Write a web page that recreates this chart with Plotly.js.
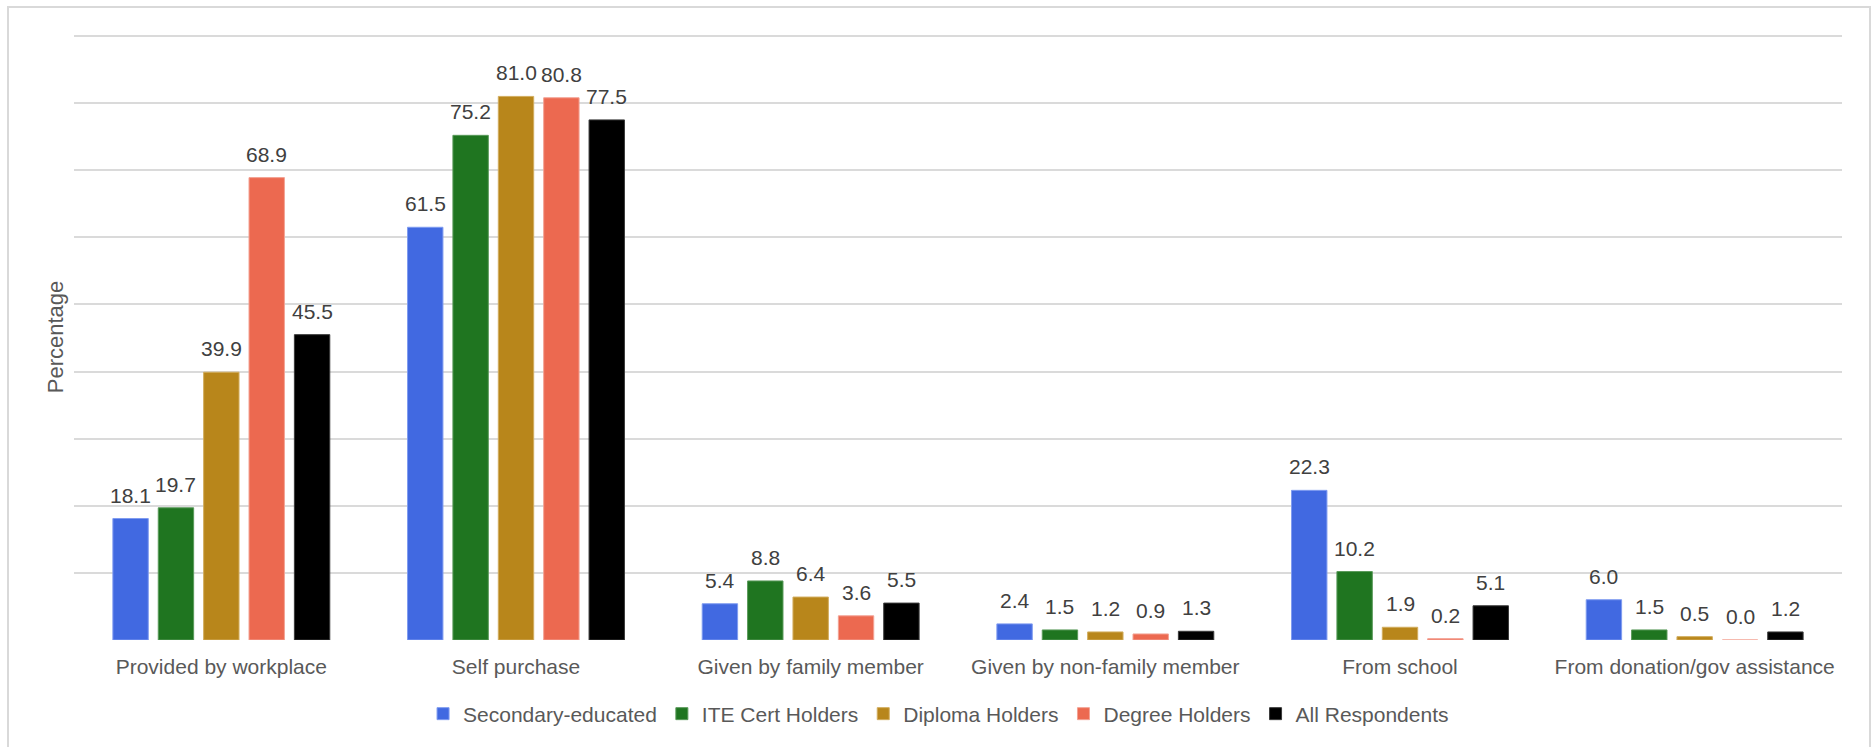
<!DOCTYPE html>
<html>
<head>
<meta charset="utf-8">
<script src="https://cdn.plot.ly/plotly-3.0.1.min.js"></script>
<style>
  html, body { margin: 0; padding: 0; background: #ffffff; }
  #chart { width: 1872px; height: 747px; }
</style>
</head>
<body>
<div id="chart"></div>
<script>
// Sources of the item, by highest education level (% of respondents)
const categories = [
  'Provided by workplace',
  'Self purchase',
  'Given by family member',
  'Given by non-family member',
  'From school',
  'From donation/gov assistance'
];

const seriesNames = [
  'Secondary-educated',
  'ITE Cert Holders',
  'Diploma Holders',
  'Degree Holders',
  'All Respondents'
];

const secondaryEducated = [18.1, 61.5, 5.4, 2.4, 22.3, 6.0];
const iteCertHolders    = [19.7, 75.2, 8.8, 1.5, 10.2, 1.5];
const diplomaHolders    = [39.9, 81.0, 6.4, 1.2, 1.9, 0.5];
const degreeHolders     = [68.9, 80.8, 3.6, 0.9, 0.2, 0.0];
const allRespondents    = [45.5, 77.5, 5.5, 1.3, 5.1, 1.2];

const seriesValues = [secondaryEducated, iteCertHolders, diplomaHolders, degreeHolders, allRespondents];

const colors = ['#4169e1', '#1f7520', '#b8861b', '#ec6950', '#000000'];
const edgeColors = ['#7f9bf0', '#5a9a5a', '#d2ad5e', '#f3a294', '#3a3a3a'];

const FONT = '"Liberation Sans", Arial, Helvetica, sans-serif';

// Figure geometry
const W = 1872, H = 747;
const margin = { l: 74, r: 30, t: 34, b: 107 };
const plotW = W - margin.l - margin.r;
const plotH = H - margin.t - margin.b;
const BARGAP = 0.23, BARGROUPGAP = 0.22;

const traces = seriesNames.map((name, i) => ({
  type: 'bar',
  name: name,
  x: categories,
  y: seriesValues[i],
  marker: { color: colors[i], line: { color: edgeColors[i], width: 1 } },
  hovertemplate: '%{x}<br>' + name + ': %{y:.1f}<extra></extra>'
}));

// Value labels above each bar, offset to the bar's slot within its group
const slotW = plotW / categories.length;
const barSlot = slotW * (1 - BARGAP) / seriesNames.length;
const valueLabels = [];
seriesValues.forEach((vals, i) => {
  vals.forEach((v, j) => {
    valueLabels.push({
      x: categories[j], y: v, xref: 'x', yref: 'y',
      text: v.toFixed(1), showarrow: false,
      xanchor: 'center', yanchor: 'bottom',
      xshift: (i - (seriesNames.length - 1) / 2) * barSlot,
      yshift: 10,
      font: { family: FONT, size: 21, color: '#404040' }
    });
  });
});

const layout = {
  width: W, height: H,
  margin: margin,
  paper_bgcolor: '#ffffff',
  plot_bgcolor: '#ffffff',
  barmode: 'group',
  bargap: BARGAP,
  bargroupgap: BARGROUPGAP,
  font: { family: FONT, size: 21, color: '#595959' },
  showlegend: true,
  legend: {
    orientation: 'h',
    x: 0.489, xanchor: 'center',
    y: (H - margin.b - 714) / plotH, yanchor: 'middle',
    font: { family: FONT, size: 21, color: '#595959' },
    itemwidth: 30,
    traceorder: 'normal'
  },
  xaxis: {
    type: 'category',
    ticks: '',
    showline: false,
    showgrid: false,
    ticklabelstandoff: 12,
    tickfont: { family: FONT, size: 21, color: '#595959' },
    fixedrange: true
  },
  yaxis: {
    range: [0, 90.3],
    dtick: 10,
    showticklabels: false,
    ticks: '',
    showgrid: true,
    gridcolor: '#dadada',
    gridwidth: 2,
    zeroline: false,
    showline: false,
    title: {
      text: 'Percentage',
      standoff: 3,
      font: { family: FONT, size: 22, color: '#595959' }
    },
    fixedrange: true
  },
  annotations: valueLabels,
  shapes: [{
    type: 'rect', xref: 'paper', yref: 'paper',
    x0: (8 - margin.l) / plotW,
    x1: (W - 2 - margin.l) / plotW,
    y0: -0.3,
    y1: (H - margin.b - 7) / plotH,
    line: { color: '#d9d9d9', width: 2 },
    fillcolor: 'rgba(0,0,0,0)',
    layer: 'below'
  }]
};

Plotly.newPlot('chart', traces, layout, { displayModeBar: false, staticPlot: true });
</script>
</body>
</html>
